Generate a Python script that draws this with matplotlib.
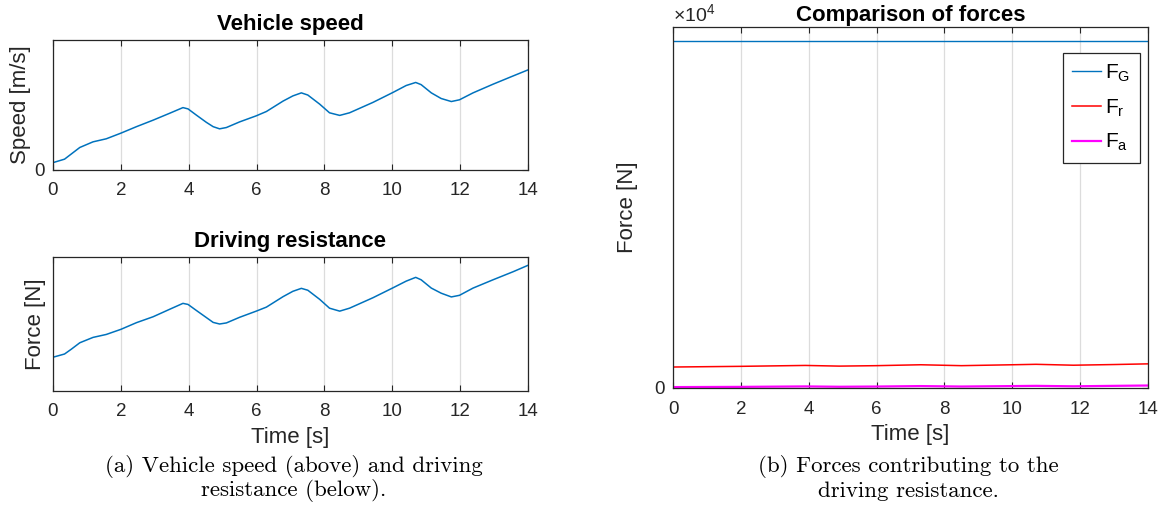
import numpy as np
import matplotlib.pyplot as plt

plt.rcParams['font.family'] = ['Liberation Sans', 'DejaVu Sans']
plt.rcParams['mathtext.fontset'] = 'custom'
plt.rcParams['mathtext.rm'] = 'Liberation Sans'
plt.rcParams['mathtext.it'] = 'Liberation Sans'

# time samples [s]
t = [0, 0.34, 0.54, 0.79, 1.18, 1.57, 2.0, 2.46, 2.95, 3.44,
     3.83, 3.98, 4.22, 4.52, 4.72, 4.91, 5.11, 5.50, 5.99, 6.29,
     6.78, 7.07, 7.32, 7.51, 7.86, 8.15, 8.45, 8.74, 9.43, 10.02,
     10.41, 10.69, 10.85, 11.15, 11.44, 11.74, 11.98, 12.38, 12.97, 13.56, 14.0]
# vehicle speed [m/s]
speed = [1.7, 2.5, 3.7, 5.2, 6.5, 7.2, 8.5, 10.0, 11.5, 13.1,
         14.4, 14.1, 12.7, 11.0, 10.0, 9.5, 9.8, 11.1, 12.5, 13.5,
         15.9, 17.1, 17.8, 17.3, 15.2, 13.2, 12.6, 13.2, 15.6, 17.9,
         19.5, 20.2, 19.7, 17.8, 16.5, 15.8, 16.2, 17.8, 19.8, 21.7, 23.1]
# driving resistance [N]
resistance = [926, 938, 956, 980, 1000, 1011, 1030, 1055, 1077, 1105,
              1127, 1123, 1101, 1074, 1056, 1050, 1054, 1075, 1098, 1113,
              1152, 1172, 1183, 1176, 1142, 1109, 1098, 1109, 1148, 1185,
              1210, 1224, 1215, 1184, 1165, 1151, 1157, 1184, 1215, 1245, 1269]

# forces for comparison plot [N]
t_f = [0, 2, 3.9, 4.9, 6, 7.3, 8.5, 10, 10.7, 11.8, 13, 14]
F_G = [15400] * 12
F_r = [930, 960, 1000, 970, 990, 1030, 990, 1030, 1050, 1010, 1040, 1070]
F_a = [40, 50, 70, 55, 65, 85, 65, 85, 95, 75, 95, 110]

blue = '#0072BD'
edge = '#262626'
tick_fs = 13.5
lab_fs = 16


def style(ax):
    ax.set_xlim(0, 14)
    ax.set_xticks(np.arange(0, 15, 2))
    ax.grid(axis='x', color='#dcdcdc', linewidth=0.9)
    ax.set_axisbelow(True)
    ax.tick_params(direction='in', top=True, right=True, length=4,
                   labelsize=tick_fs, colors=edge, labelcolor='#262626')
    ax.tick_params(axis='x', pad=9)
    ax.tick_params(axis='y', pad=6)
    for s in ax.spines.values():
        s.set_color(edge)
        s.set_linewidth(0.9)


W, H = 1164, 527
fig = plt.figure(figsize=(W / 100, H / 100), dpi=100)

ax1 = fig.add_axes([53 / W, 1 - 170 / H, 475 / W, 130 / H])
ax1.plot(t, speed, color=blue, linewidth=1.1)
style(ax1)
ax1.set_ylim(0, 30)
ax1.set_yticks([0])
ax1.set_ylabel('Speed [m/s]', fontsize=lab_fs, color='#262626', labelpad=2)
ax1.set_title('Vehicle speed', fontsize=16, fontweight='bold', pad=7)

ax2 = fig.add_axes([53 / W, 1 - 391 / H, 475 / W, 134 / H])
ax2.plot(t, resistance, color=blue, linewidth=1.1)
style(ax2)
ax2.set_ylim(800, 1300)
ax2.set_yticks([])
ax2.set_ylabel('Force [N]', fontsize=lab_fs, color='#262626', labelpad=5)
ax2.set_xlabel('Time [s]', fontsize=lab_fs, color='#262626', labelpad=5)
ax2.set_title('Driving resistance', fontsize=16, fontweight='bold', pad=7)

ax3 = fig.add_axes([673 / W, 1 - 388 / H, 475 / W, 361 / H])
ax3.plot(t_f, F_G, color=blue, linewidth=1.0, label=r'$\mathregular{F_G}$')
ax3.plot(t_f, F_r, color='red', linewidth=1.1, label=r'$\mathregular{F_r}$')
ax3.plot(t_f, F_a, color='magenta', linewidth=1.6, label=r'$\mathregular{F_a}$')
style(ax3)
ax3.set_ylim(0, 16000)
ax3.set_yticks([0])
ax3.set_ylabel('Force [N]', fontsize=lab_fs, color='#262626', labelpad=12)
ax3.set_xlabel('Time [s]', fontsize=lab_fs, color='#262626', labelpad=5)
ax3.set_title('Comparison of forces', fontsize=16, fontweight='bold', pad=4)
ax3.text(0.0, 1.005, r'$\times\mathregular{10^4}$', transform=ax3.transAxes,
         fontsize=14, color='#262626', va='bottom', ha='left')
leg = ax3.legend(loc='upper right', fontsize=15, fancybox=False,
                 edgecolor=edge, framealpha=1, handlelength=1.4,
                 handletextpad=0.2, borderpad=0.45, labelspacing=0.65,
                 borderaxespad=0, bbox_to_anchor=(0.983, 0.928))
leg.get_frame().set_linewidth(0.9)

cap = dict(family='cmr10', fontsize=16.5, ha='center', va='center')
fig.text(294 / W, 1 - 466 / H, '(a) Vehicle speed (above) and driving', **cap)
fig.text(294 / W, 1 - 491 / H, 'resistance (below).', **cap)
fig.text(908 / W, 1 - 466 / H, '(b) Forces contributing to the', **cap)
fig.text(908 / W, 1 - 491 / H, 'driving resistance.', **cap)

fig.savefig('out.png', dpi=100)
